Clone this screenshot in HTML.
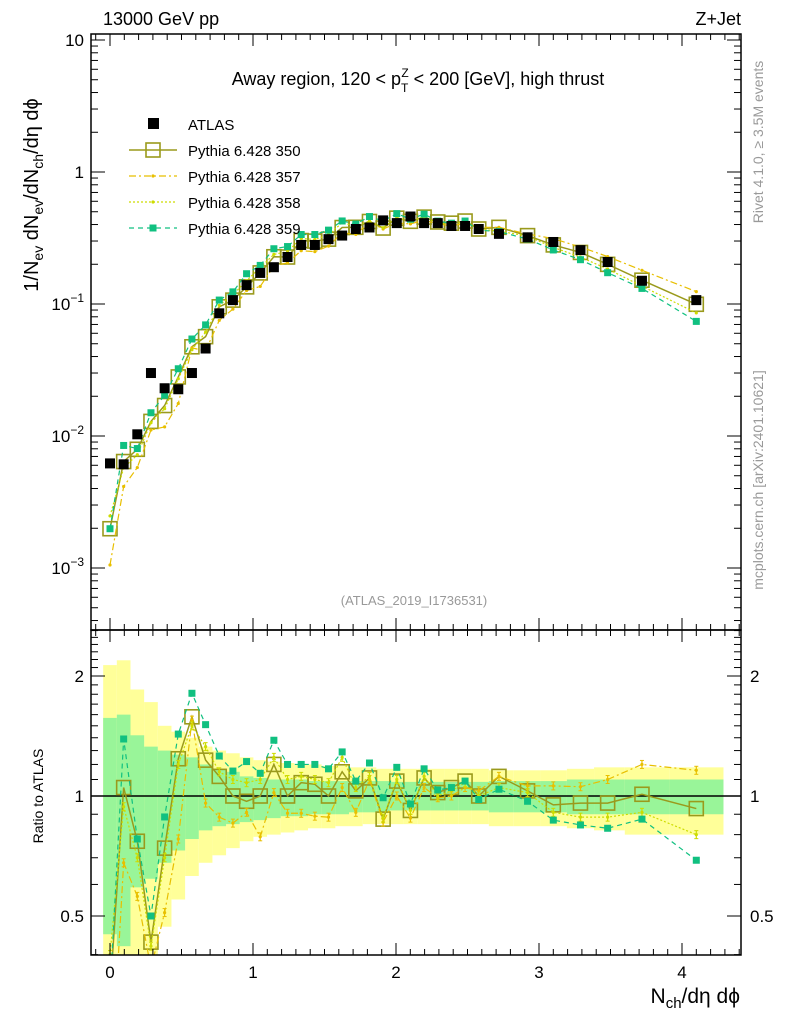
<!DOCTYPE html>
<html><head><meta charset="utf-8"><style>
html,body{margin:0;padding:0;background:#fff;width:786px;height:1024px;overflow:hidden;position:relative;}
svg{position:absolute;left:0;top:0;display:block;font-family:"Liberation Sans",sans-serif;overflow:hidden;}
script{display:none;}
</style></head><body><svg id="c" width="786" height="1024" viewBox="0 0 786 1024"></svg><script>
const xVals=[0,0.0955,0.191,0.2865,0.382,0.4775,0.573,0.6685,0.764,0.8595,0.955,1.0505,1.146,1.2415,1.337,1.4325,1.528,1.6235,1.719,1.8145,1.91,2.0055,2.101,2.1965,2.292,2.3875,2.483,2.5785,2.72,2.92,3.1,3.29,3.48,3.72,4.1];
const dataVals=[0.0062,0.0061,0.0103,0.030,0.023,0.0226,0.030,0.046,0.085,0.107,0.139,0.172,0.19,0.227,0.28,0.28,0.31,0.33,0.37,0.38,0.43,0.41,0.46,0.41,0.41,0.39,0.39,0.37,0.34,0.32,0.295,0.256,0.208,0.15,0.107];
const r350=[0.32,1.05,0.77,0.43,0.74,1.24,1.58,1.23,1.12,1.0,0.97,1.0,1.2,1.0,1.08,1.07,1.0,1.15,1.03,1.11,0.875,1.09,0.92,1.11,1.02,1.05,1.09,1.0,1.12,1.03,0.95,0.96,0.96,1.01,0.93];
const r357=[0.17,0.68,0.56,0.37,0.51,0.78,1.55,0.96,0.885,0.855,0.91,0.79,1.02,0.905,0.905,0.89,0.885,1.05,0.91,1.1,0.86,1.0,0.88,1.05,0.99,1.0,1.05,1.03,1.12,1.06,1.06,1.055,1.1,1.2,1.16];
const r358=[0.4,0.94,0.7,0.42,0.7,1.2,1.5,1.33,1.15,1.1,1.08,1.1,1.25,1.1,1.12,1.1,1.08,1.25,1.05,1.12,0.88,1.1,0.92,1.12,1.0,1.03,1.08,1.0,1.05,1.02,0.91,0.885,0.885,0.91,0.8];
const r359=[0.32,1.39,0.78,0.5,0.886,1.43,1.81,1.51,1.26,1.155,1.22,1.14,1.38,1.2,1.2,1.2,1.17,1.29,1.09,1.21,0.99,1.18,0.955,1.17,1.035,1.05,1.09,0.98,1.04,0.97,0.87,0.846,0.83,0.875,0.69];
const yelUp=[2.13,2.19,1.85,1.72,1.5,1.45,1.4,1.33,1.3,1.28,1.25,1.23,1.22,1.21,1.2,1.2,1.19,1.19,1.18,1.18,1.17,1.17,1.17,1.17,1.17,1.17,1.17,1.17,1.16,1.16,1.16,1.17,1.18,1.18,1.18];
const yelDn=[0.3,0.3,0.3,0.4,0.47,0.55,0.63,0.68,0.71,0.74,0.77,0.79,0.8,0.81,0.82,0.83,0.83,0.84,0.84,0.85,0.85,0.85,0.85,0.85,0.85,0.85,0.85,0.85,0.84,0.84,0.84,0.83,0.82,0.8,0.8];
const grnUp=[1.57,1.6,1.42,1.33,1.3,1.27,1.25,1.2,1.17,1.15,1.12,1.11,1.1,1.1,1.1,1.09,1.09,1.09,1.09,1.09,1.09,1.085,1.085,1.085,1.085,1.085,1.085,1.085,1.09,1.09,1.09,1.1,1.1,1.1,1.1];
const grnDn=[0.45,0.42,0.59,0.62,0.68,0.73,0.78,0.82,0.84,0.85,0.86,0.87,0.88,0.89,0.89,0.9,0.9,0.9,0.91,0.91,0.91,0.92,0.92,0.92,0.92,0.92,0.92,0.92,0.91,0.91,0.91,0.9,0.9,0.9,0.9];
const xTicks=[0,1,2,3,4];

const NS="http://www.w3.org/2000/svg";
const svg=document.getElementById('c');
const L=91,R=741,T=34,MB=630,RB=955;
const X=v=>110+143*v;
const YM=v=>172-132*Math.log10(v);
const YR=r=>796-120*Math.log2(r);
function mk(tag,at,parent){const e=document.createElementNS(NS,tag);for(const k in at)e.setAttribute(k,at[k]);(parent||svg).appendChild(e);return e;}
function txt(s,x,y,sz,anchor,fill,parent){const t=mk('text',{x:x,y:y,'font-size':sz,'text-anchor':anchor||'start',fill:fill||'#000'},parent);t.textContent=s;return t;}

const defs=mk('defs',{});
const cp1=mk('clipPath',{id:'cm'},defs);mk('rect',{x:L,y:T,width:R-L,height:MB-T},cp1);
const cp2=mk('clipPath',{id:'cr'},defs);mk('rect',{x:L,y:MB,width:R-L,height:RB-MB},cp2);

function edges(i){const lo=i==0?xVals[0]-(xVals[1]-xVals[0])/2:(xVals[i-1]+xVals[i])/2;const hi=i==xVals.length-1?xVals[i]+(xVals[i]-xVals[i-1])/2:(xVals[i]+xVals[i+1])/2;return [lo,hi];}

const gR=mk('g',{'clip-path':'url(#cr)'});

for(let i=0;i<xVals.length;i++){const [a,b]=edges(i);
 const y=mk('rect',{x:X(a),y:YR(yelUp[i]),width:X(b)-X(a),height:YR(yelDn[i])-YR(yelUp[i]),fill:'#ffff99'},gR);
 }
for(let i=0;i<xVals.length;i++){const [a,b]=edges(i);
 const g=mk('rect',{x:X(a),y:YR(grnUp[i]),width:X(b)-X(a),height:YR(grnDn[i])-YR(grnUp[i]),fill:'#99f599'},gR);
 }
mk('line',{x1:L,x2:R,y1:YR(1),y2:YR(1),stroke:'#000','stroke-width':1.5},gR);

const gM=mk('g',{'clip-path':'url(#cm)'});


const series=[
 {name:'pythia-350',r:r350,col:'#9a9a1c',dash:'',marker:'sq',w:1.5},
 {name:'pythia-357',r:r357,col:'#e8bf00',dash:'7,3,2,3',marker:'dot',w:1.2},
 {name:'pythia-358',r:r358,col:'#cddc00',dash:'2,2',marker:'dot',w:1.2},
 {name:'pythia-359',r:r359,col:'#10c080',dash:'5,4',marker:'fsq',w:1.2}];
function drawMarker(g,m,x,y,col){
 if(m=='sq')return mk('rect',{x:x-7,y:y-7,width:14,height:14,fill:'none',stroke:col,'stroke-width':1.6},g);
 if(m=='fsq')return mk('rect',{x:x-3.5,y:y-3.5,width:7,height:7,fill:col},g);
 return mk('circle',{cx:x,cy:y,r:1.6,fill:col},g);}
for(const s of series){
 const mv=dataVals.map((d,i)=>d*s.r[i]);
 const pm=mk('polyline',{points:xVals.map((x,i)=>X(x)+','+YM(mv[i])).join(' '),fill:'none',stroke:s.col,'stroke-width':s.w,'stroke-dasharray':s.dash},gM);
 
 const pr=mk('polyline',{points:xVals.map((x,i)=>X(x)+','+YR(s.r[i])).join(' '),fill:'none',stroke:s.col,'stroke-width':s.w,'stroke-dasharray':s.dash},gR);
 
 xVals.forEach((x,i)=>{
  const m=drawMarker(gM,s.marker,X(x),YM(mv[i]),s.col);
  
  const m2=drawMarker(gR,s.marker,X(x),YR(s.r[i]),s.col);
  
  if(s.marker=='dot'){mk('line',{x1:X(x),x2:X(x),y1:YR(s.r[i])-4,y2:YR(s.r[i])+4,stroke:s.col,'stroke-width':1.2},gR);
   mk('line',{x1:X(x)-2,x2:X(x)+2,y1:YR(s.r[i])-4,y2:YR(s.r[i])-4,stroke:s.col,'stroke-width':1},gR);
   mk('line',{x1:X(x)-2,x2:X(x)+2,y1:YR(s.r[i])+4,y2:YR(s.r[i])+4,stroke:s.col,'stroke-width':1},gR);}
 });
}
xVals.forEach((x,i)=>{const d=mk('rect',{x:X(x)-5,y:YM(dataVals[i])-5,width:10,height:10,fill:'#000'},gM);
 });

for(const [t,b] of [[T,MB],[MB,RB]])mk('rect',{x:L,y:t,width:R-L,height:b-t,fill:'none',stroke:'#000','stroke-width':1.5});
for(let k=-1;k<=44;k++){const v=k/10;const x=X(v);if(x<L||x>R)continue;const maj=k%10==0;const len=maj?12:6;
 for(const [t,b] of [[T,MB],[MB,RB]]){mk('line',{x1:x,x2:x,y1:b,y2:b-len,stroke:'#000'});mk('line',{x1:x,x2:x,y1:t,y2:t+len,stroke:'#000'});}}
xTicks.forEach(v=>{const t=txt(String(v),X(v),978,17,'middle');});
for(let e=-4;e<=1;e++)for(let m=1;m<=9;m++){const v=m*Math.pow(10,e);const y=YM(v);if(y<T||y>MB)continue;const len=m==1?14:7;
 mk('line',{x1:L,x2:L+len,y1:y,y2:y,stroke:'#000'});mk('line',{x1:R,x2:R-len,y1:y,y2:y,stroke:'#000'});}
function ylab(html,y,name){const t=mk('text',{x:84,y:y+6,'font-size':17,'text-anchor':'end'});t.innerHTML=html;}
ylab('10',YM(10),'y-tick-label');ylab('1',YM(1),'y-tick-label');
ylab('10<tspan dy="-8" font-size="12">−1</tspan>',YM(0.1),'y-tick-label');
ylab('10<tspan dy="-8" font-size="12">−2</tspan>',YM(0.01),'y-tick-label');
ylab('10<tspan dy="-8" font-size="12">−3</tspan>',YM(0.001),'y-tick-label');
for(let k=4;k<=26;k++){const r=k/10;const y=YR(r);if(y<MB||y>RB)continue;const maj=(k==5||k==10||k==20);const len=maj?14:7;
 mk('line',{x1:L,x2:L+len,y1:y,y2:y,stroke:'#000'});mk('line',{x1:R,x2:R-len,y1:y,y2:y,stroke:'#000'});}
[[2,'2'],[1,'1'],[0.5,'0.5']].forEach(([r,s])=>{const a=txt(s,84,YR(r)+6,17,'end');
 const b=txt(s,750,YR(r)+6,17,'start');});

let t=txt('13000 GeV pp',103,25,18);
t=txt('Z+Jet',741,25,18,'end');
t=mk('text',{x:418,y:85,'font-size':18,'text-anchor':'middle'});t.innerHTML='Away region, 120 &lt; p<tspan dy="7" font-size="12">T</tspan><tspan dx="-7" dy="-15" font-size="12">Z</tspan><tspan dy="8"> &lt; 200 [GeV], high thrust</tspan>';

t=txt('(ATLAS_2019_I1736531)',414,605,13,'middle','#999');
t=mk('text',{x:0,y:0,'font-size':20,'text-anchor':'middle',transform:'translate(38,195) rotate(-90)'});
t.innerHTML='1/N<tspan dy="5" font-size="14">ev</tspan><tspan dy="-5"> dN</tspan><tspan dy="5" font-size="14">ev</tspan><tspan dy="-5">/dN</tspan><tspan dy="5" font-size="14">ch</tspan><tspan dy="-5">/dη dϕ</tspan>';

t=txt('Ratio to ATLAS',0,0,14,'middle');t.setAttribute('transform','translate(43,796) rotate(-90)');
t=mk('text',{x:740,y:1003,'font-size':21,'text-anchor':'end'});t.innerHTML='N<tspan dy="5" font-size="15">ch</tspan><tspan dy="-5">/dη dϕ</tspan>';

t=txt('Rivet 4.1.0, ≥ 3.5M events',0,0,14,'middle','#999');t.setAttribute('transform','translate(763,142) rotate(-90)');
t=txt('mcplots.cern.ch [arXiv:2401.10621]',0,0,14,'middle','#999');t.setAttribute('transform','translate(763,480) rotate(-90)');

const leg=[['ATLAS','data'],['Pythia 6.428 350',series[0]],['Pythia 6.428 357',series[1]],['Pythia 6.428 358',series[2]],['Pythia 6.428 359',series[3]]];
leg.forEach(([lab,s],i)=>{const y=124+i*26;const g=mk('g',{});
 
 if(s=='data')mk('rect',{x:148,y:y-6,width:11,height:11,fill:'#000'},g);
 else{mk('line',{x1:129,x2:177,y1:y,y2:y,stroke:s.col,'stroke-width':s.w,'stroke-dasharray':s.dash},g);drawMarker(g,s.marker,153,y,s.col);}
 txt(lab,188,y+6,15,'start','#000',g);});
</script></body></html>
